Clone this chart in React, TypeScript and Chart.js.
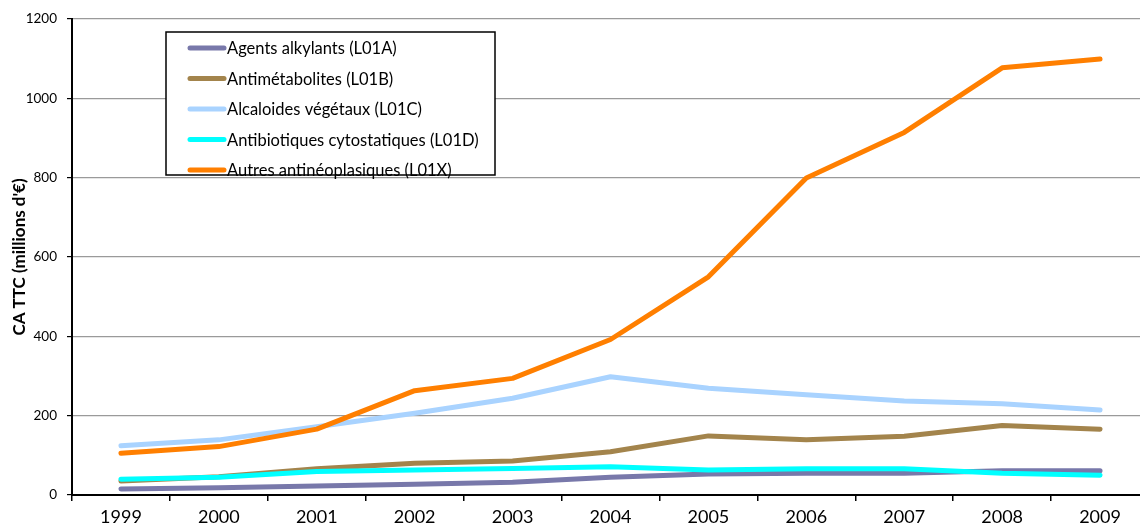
import React, { useEffect, useRef } from "react";
import { Chart, registerables } from "chart.js";

Chart.register(...registerables);

const years = ["1999", "2000", "2001", "2002", "2003", "2004", "2005", "2006", "2007", "2008", "2009"];
const seriesNames = [
  "Agents alkylants (L01A)",
  "Antimétabolites (L01B)",
  "Alcaloides végétaux (L01C)",
  "Antibiotiques cytostatiques (L01D)",
  "Autres antinéoplasiques (L01X)",
];
const alkylants = [15, 18, 23, 27, 32, 45, 53, 55, 55, 61, 61];
const antimetabolites = [35, 46, 66, 80, 86, 109, 149, 139, 148, 175, 166];
const alcaloides = [124, 139, 172, 206, 244, 298, 269, 253, 237, 230, 214];
const antibiotiques = [40, 45, 59, 63, 67, 71, 63, 66, 66, 55, 50];
const autres = [105, 122, 166, 263, 294, 392, 550, 799, 914, 1077, 1099];
const seriesColors = ["#7878AA", "#A3844C", "#A9D3FF", "#00FFFF", "#FF7F00"];
const yTicks = [0, 200, 400, 600, 800, 1000, 1200];
const yTitle = "CA TTC (millions d'€)";

const FONT = "Lato, 'Open Sans', sans-serif";

const boxLegend = {
  id: "boxLegend",
  afterDraw(chart: any) {
    const ctx = chart.ctx;
    const x0 = 166, y0 = 32, w = 329, h = 143;
    ctx.save();
    ctx.fillStyle = "#ffffff";
    ctx.fillRect(x0, y0, w, h);
    ctx.strokeStyle = "#000000";
    ctx.lineWidth = 1.5;
    ctx.strokeRect(x0, y0, w, h);
    ctx.font = "16.5px " + FONT;
    ctx.textBaseline = "middle";
    ctx.textAlign = "left";
    chart.data.datasets.forEach((ds: any, i: number) => {
      const y = 48 + i * 30.5;
      ctx.strokeStyle = ds.borderColor;
      ctx.lineWidth = 5;
      ctx.lineCap = "round";
      ctx.beginPath();
      ctx.moveTo(190, y);
      ctx.lineTo(224, y);
      ctx.stroke();
      ctx.fillStyle = "#000000";
      ctx.fillText(ds.label, 227, y + 1);
    });
    ctx.restore();
  },
};

export default function App() {
  const ref = useRef<HTMLCanvasElement | null>(null);
  useEffect(() => {
    if (!ref.current) return;
    const all = [alkylants, antimetabolites, alcaloides, antibiotiques, autres];
    const chart = new Chart(ref.current, {
      type: "line",
      data: {
        labels: years,
        datasets: all.map((d, i) => ({
          label: seriesNames[i],
          data: d,
          borderColor: seriesColors[i],
          backgroundColor: seriesColors[i],
          borderWidth: 5,
          pointRadius: 0,
          pointHoverRadius: 0,
          tension: 0,
          borderCapStyle: "round" as const,
          borderJoinStyle: "round" as const,
          fill: false,
          order: 5 - i,
        })),
      },
      options: {
        animation: false,
        responsive: false,
        maintainAspectRatio: false,
        events: [],
        layout: { padding: { top: 19, right: 3, left: 0, bottom: 0 } },
        plugins: {
          legend: { display: false },
          tooltip: { enabled: false },
        },
        scales: {
          x: {
            offset: true,
            grid: {
              offset: true,
              drawOnChartArea: false,
              drawTicks: true,
              tickLength: 6,
              color: "#000000",
              lineWidth: 1.5,
            },
            border: { color: "#000000", width: 2 },
            ticks: {
              color: "#000000",
              font: { family: FONT, size: 18 },
              padding: 5,
              maxRotation: 0,
              autoSkip: false,
            },
            afterFit(scale: any) {
              scale.height = 34;
            },
          },
          y: {
            min: 0,
            max: 1200,
            afterBuildTicks(scale: any) {
              scale.ticks = yTicks.map((v) => ({ value: v }));
            },
            grid: {
              color: "#9a9a9a",
              lineWidth: 1.2,
              tickLength: 5,
              tickColor: "#000000",
            },
            border: { color: "#000000", width: 2 },
            ticks: {
              color: "#000000",
              font: { family: FONT, size: 13.5 },
              padding: 10,
              callback: (v: any) => String(v),
            },
            title: {
              display: true,
              text: yTitle,
              color: "#000000",
              font: { family: FONT, size: 17, weight: "bold" },
              padding: { top: 9, bottom: 0 },
            },
            afterFit(scale: any) {
              scale.width = 72;
            },
          },
        },
      },
      plugins: [boxLegend],
    });
    return () => chart.destroy();
  }, []);
  return (
    <div style={{ position: "absolute", left: 0, top: 0, width: 1140, height: 529, overflow: "hidden", background: "#fff" }}>
      <canvas ref={ref} width={1152} height={529} style={{ display: "block" }} />
    </div>
  );
}
